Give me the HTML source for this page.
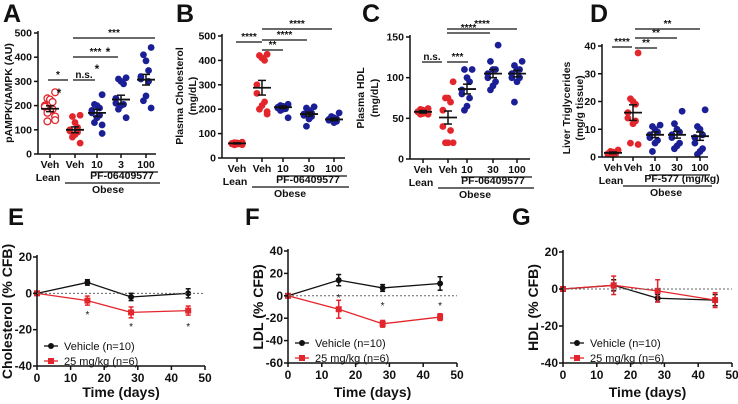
<!DOCTYPE html>
<html><head><meta charset="utf-8"><style>
body{margin:0;background:#fff}
svg{display:block;font-family:"Liberation Sans",Arial,sans-serif}
</style></head><body>
<svg id="fig" width="738" height="404" viewBox="0 0 738 404"></svg>
<script>
// ---------- data ----------
const groupLabels = ["Veh","Veh","10","3","100"];
const aLeanVeh = [255,230,225,215,200,195,185,180,170,155,140,135];
const aObeseVeh = [160,155,130,110,100,95,90,80,70,45];
const aDose10 = [245,205,200,190,180,170,160,150,130,120,85];
const aDose3 = [315,310,300,290,230,210,205,200,185,150];
const aDose100 = [440,410,385,345,320,310,300,240,220,190];
const aMeans = [187,100,170,225,307];
const aSem = [12,12,15,18,22];

const bLabels = ["Veh","Veh","10","30","100"];
const bLeanVeh = [65,63,62,60,60,58,58,57,56,55,55,54];
const bObeseVeh = [425,420,410,400,300,265,230,215,200,190,180];
const bDose10 = [220,215,212,210,208,205,202,200,195,165];
const bDose30 = [210,205,195,185,180,175,170,160,130];
const bDose100 = [185,170,165,160,158,155,150,145];
const bMeans = [60,288,208,180,158];
const bSem = [2,30,5,8,5];

const cLabels = ["Veh","Veh","10","30","100"];
const cLeanVeh = [62,61,60,59,58,58,57,56,55,55];
const cObeseVeh = [95,75,75,70,60,40,35,20,20,20];
const cDose10 = [110,110,100,95,85,80,75,65,60];
const cDose30 = [140,120,110,110,105,100,95,90,85];
const cDose100 = [120,115,110,110,105,100,100,95,70];
const cMeans = [58,51,86,105,105];
const cSem = [1.5,8,6,5,4];

const dLabels = ["Veh","Veh","10","30","100"];
const dLeanVeh = [2.5,2,1.8,1.5,1.2,1,1,0.8];
const dObeseVeh = [37.5,21,20,19,16,14,13,12,5,4.5];
const dDose10 = [11.5,11,10,9,8,7,6,5,2];
const dDose30 = [16.5,12,10,9,8,7,5,4,3];
const dDose100 = [17,11,10,8,7,5,3,2,1];
const dMeans = [1.5,16,8,8,7.5];
const dSem = [0.3,2.8,1,1.2,1.5];

const days = [0,15,28,45];
const eVehicle = [0,6,-2,0];
const eVehicleErr = [0,1.5,2,2.5];
const eDrug = [0,-4,-10.5,-9.5];
const eDrugErr = [0,2.5,3,2.5];
const fVehicle = [0,14,7,11];
const fVehicleErr = [0,5,3,6];
const fDrug = [0,-12,-25,-19];
const fDrugErr = [0,8,3,3];
const gVehicle = [0,2,-5,-6];
const gVehicleErr = [0,3,2,3];
const gDrug = [0,2,-1,-6];
const gDrugErr = [0,5,6,4];

// ---------- helpers ----------
const NS="http://www.w3.org/2000/svg";
const svg=document.getElementById('fig');
function el(tag,attrs,parent,text){const e=document.createElementNS(NS,tag);for(const k in attrs)e.setAttribute(k,attrs[k]);if(text!==undefined)e.textContent=text;(parent||svg).appendChild(e);return e;}
const RED="#e3262c", BLUE="#1b1f96";
function txt(x,y,s,size,anchor,name,extra){const t=el('text',Object.assign({x:x,y:y,'font-size':size,'font-weight':'bold','text-anchor':anchor||'middle',fill:'#111'},extra||{}),svg,s);

return t;}
function line(x1,y1,x2,y2,name,w,color,dash){const l=el('line',{x1:x1,y1:y1,x2:x2,y2:y2,stroke:color||'#111','stroke-width':w||1.3});if(dash)l.setAttribute('stroke-dasharray',dash);

return l;}

function dotPanel(cfg){
  const g=el('g',{});
  
  
  const ys=v=>cfg.y0+(v-cfg.ymin)/(cfg.ymax-cfg.ymin)*(cfg.y1-cfg.y0);
  line(cfg.ax,cfg.y1-2,cfg.ax,cfg.y0,'y-axis',1.5);
  line(cfg.ax,cfg.y0,cfg.axEnd,cfg.y0,'x-axis',1.5);
  cfg.ticks.forEach(t=>{const y=ys(t);line(cfg.ax-4,y,cfg.ax,y,'y-tick',1.5);txt(cfg.ax-6,y+3.5,String(t),10.5,'end','y-tick-label');});
  cfg.cats.forEach(c=>line(c,cfg.y0,c,cfg.y0+4,'x-tick',1.5));
  cfg.groups.forEach((vals,gi)=>{
    const cx=cfg.cats[gi];
    vals.forEach((v,i)=>{
      const off=((i%5)-2)*3.2*(i%2?1:-1)*0.8;
      const hollow=gi===0&&cfg.hollowFirst;
      const c=el('circle',{cx:cx+off,cy:ys(v),r:3.4,fill:hollow?'#fff':(gi<2?RED:BLUE),stroke:gi<2?RED:BLUE,'stroke-width':hollow?1.3:0},g);
      
      
    });
    const m=cfg.means[gi],s=cfg.sem[gi];
    line(cx-9,ys(m),cx+9,ys(m),'mean-bar',1.8);
    line(cx,ys(m-s),cx,ys(m+s),'sem-bar',1.5);
    line(cx-4,ys(m-s),cx+4,ys(m-s),'sem-cap',1.5);
    line(cx-4,ys(m+s),cx+4,ys(m+s),'sem-cap',1.5);
  });
  cfg.labels.forEach((l,i)=>txt(cfg.cats[i],cfg.y0+14,l,10.5,'middle','x-tick-label'));
  line(cfg.cats[2]-6,cfg.y0+18,cfg.axEnd+2,cfg.y0+18,'dose-underline',1.2);
  txt(cfg.cats[0]-2,cfg.y0+27,'Lean',10.5,'middle','lean-label');
  txt(cfg.drugX,cfg.y0+25,cfg.drug,10.5,'middle','drug-label');
  line(cfg.cats[1]-10,cfg.y0+29,cfg.axEnd+4,cfg.y0+29,'obese-underline',1.2);
  txt(cfg.obeseX,cfg.y0+39,'Obese',10.5,'middle','obese-label');
  cfg.sig.forEach(s=>{line(s[0],s[2],s[1],s[2],'significance-line',1.2);txt((s[0]+s[1])/2,s[2]-2,s[3],10,'middle','significance-label');});
  cfg.ylab.forEach((l,i)=>txt(0,0,l,10.5,'middle','y-axis-title',{transform:`translate(${l[1]},${cfg.ylabY}) rotate(-90)`}).textContent=l[0]);
  txt(cfg.letterX,22,cfg.letter,25,'start','panel-label-'+cfg.letter.toLowerCase());
  return ys;
}

dotPanel({name:'panel-a',ax:38,axEnd:156,y0:154,y1:33,ymin:0,ymax:500,ticks:[0,100,200,300,400,500],
  cats:[50,75,97,121,146],groups:[aLeanVeh,aObeseVeh,aDose10,aDose3,aDose100],means:aMeans,sem:aSem,hollowFirst:true,
  labels:groupLabels,drug:'PF-06409577',drugX:122,obeseX:108,
  sig:[[48,68,80,'*'],[73,95,80,'n.s.'],[73,118,57,'***'],[73,155,38,'***']],
  ylab:[['pAMPK/tAMPK (AU)',12]],ylabY:93,letter:'A',letterX:3});
txt(108,56,'*',12,'middle','significance-label');
txt(97,73,'*',12,'middle','significance-label');
txt(59,97,'*',12,'middle','significance-label');

dotPanel({name:'panel-b',ax:222,axEnd:345,y0:158,y1:36,ymin:0,ymax:500,ticks:[0,100,200,300,400,500],
  cats:[237,262,283,309,334],groups:[bLeanVeh,bObeseVeh,bDose10,bDose30,bDose100],means:bMeans,sem:bSem,
  labels:bLabels,drug:'PF-06409577',drugX:308,obeseX:290,
  sig:[[236,262,42,'****'],[262,283,50,'**'],[262,307,40,'****'],[262,332,29,'****']],
  ylab:[['Plasma Cholesterol',183],['(mg/dL)',196]],ylabY:96,letter:'B',letterX:176});

dotPanel({name:'panel-c',ax:410,axEnd:530,y0:159,y1:37,ymin:0,ymax:150,ticks:[0,50,100,150],
  cats:[423,448,467,493,517],groups:[cLeanVeh,cObeseVeh,cDose10,cDose30,cDose100],means:cMeans,sem:cSem,
  labels:cLabels,drug:'PF-06409577',drugX:493,obeseX:475,
  sig:[[422,442,62,'n.s.'],[447,468,62,'***'],[447,490,33,'****'],[447,517,29,'****']],
  ylab:[['Plasma HDL',364],['(mg/dL)',378]],ylabY:98,letter:'C',letterX:362});

dotPanel({name:'panel-d',ax:602,axEnd:708,y0:157,y1:46,ymin:0,ymax:40,ticks:[0,10,20,30,40],
  cats:[613,633,655,677,700],groups:[dLeanVeh,dObeseVeh,dDose10,dDose30,dDose100],means:dMeans,sem:dSem,
  labels:dLabels,drug:'PF-577 (mg/kg)',drugX:682,obeseX:666,
  sig:[[612,632,47,'****'],[635,657,48,'**'],[635,677,38,'**'],[635,700,29,'**']],
  ylab:[['Liver Triglycerides',570],['(mg/g tissue)',583]],ylabY:108,letter:'D',letterX:590});

function linePanel(cfg){
  const g=el('g',{});
  
  
  const xs=v=>cfg.x0+v/50*(cfg.x1-cfg.x0);
  const ys=v=>cfg.yTop+(cfg.ymax-v)/(cfg.ymax-cfg.ymin)*(cfg.yBot-cfg.yTop);
  line(cfg.x0,cfg.yTop-2,cfg.x0,cfg.yBot,'y-axis',1.5);
  line(cfg.x0,cfg.yBot,cfg.x1,cfg.yBot,'x-axis',1.5);
  cfg.ticks.forEach(t=>{line(cfg.x0-4,ys(t),cfg.x0,ys(t),'y-tick',1.5);txt(cfg.x0-5,ys(t)+4,String(t),12,'end','y-tick-label');});
  [0,10,20,30,40,50].forEach(t=>{line(xs(t),cfg.yBot,xs(t),cfg.yBot+4,'x-tick',1.5);txt(xs(t),cfg.yBot+16,String(t),12,'middle','x-tick-label');});
  line(cfg.x0,ys(0),cfg.x1,ys(0),'zero-reference-line',1,'#666','2,2');
  [[cfg.veh,cfg.vehErr,'#111','vehicle'],[cfg.drug,cfg.drugErr,RED,'drug']].forEach(([v,e,c,n])=>{
    const pts=days.map((d,i)=>xs(d)+','+ys(v[i])).join(' ');
    const pl=el('polyline',{points:pts,fill:'none',stroke:c,'stroke-width':1.3},g);
    
    
    days.forEach((d,i)=>{
      if(e[i]>0){line(xs(d),ys(v[i]-e[i]),xs(d),ys(v[i]+e[i]),n+'-error-bar',1.5,c);
        line(xs(d)-2.5,ys(v[i]-e[i]),xs(d)+2.5,ys(v[i]-e[i]),n+'-error-cap',1.5,c);
        line(xs(d)-2.5,ys(v[i]+e[i]),xs(d)+2.5,ys(v[i]+e[i]),n+'-error-cap',1.5,c);}
      const m=n==='vehicle'?el('circle',{cx:xs(d),cy:ys(v[i]),r:3,fill:c},g):el('rect',{x:xs(d)-3,y:ys(v[i])-3,width:6,height:6,fill:c},g);
      
      
    });
  });
  (cfg.stars||[]).forEach(s=>txt(xs(s[0]),s[1],'*',10,'middle','significance-star',{'font-weight':'normal'}));
  const lx=cfg.x0+7, ly=cfg.yBot-20;
  line(lx,ly,lx+14,ly,'legend-vehicle-line',1.3);
  const lc=el('circle',{cx:lx+7,cy:ly,r:3,fill:'#111'});
  txt(lx+20,ly+4,'Vehicle  (n=10)',11,'start','legend-vehicle-label',{'font-weight':'normal'});
  line(lx,ly+15,lx+14,ly+15,'legend-drug-line',1.3,RED);
  const lr=el('rect',{x:lx+4,y:ly+12,width:6,height:6,fill:RED});
  txt(lx+20,ly+19,'25 mg/kg (n=6)',11,'start','legend-drug-label',{'font-weight':'normal'});
  txt((cfg.x0+cfg.x1)/2,397,'Time  (days)',14,'middle','x-axis-title');
  txt(0,0,cfg.ylab,14,'middle','y-axis-title',{transform:`translate(${cfg.x0-25},${(cfg.yTop+cfg.yBot)/2}) rotate(-90)`});
  txt(cfg.letterX,225,cfg.letter,24,'start','panel-label-'+cfg.letter.toLowerCase());
}
linePanel({name:'panel-e',x0:37,x1:205,yTop:257,yBot:366,ymin:-40,ymax:20,ticks:[20,0,-20,-40],
  veh:eVehicle,vehErr:eVehicleErr,drug:eDrug,drugErr:eDrugErr,stars:[[15,318],[28,330],[45,330]],
  ylab:'Cholesterol  (% CFB)',letter:'E',letterX:8});
linePanel({name:'panel-f',x0:288,x1:457,yTop:251,yBot:363,ymin:-60,ymax:40,ticks:[40,20,0,-20,-40,-60],
  veh:fVehicle,vehErr:fVehicleErr,drug:fDrug,drugErr:fDrugErr,stars:[[15,301],[28,309],[45,309]],
  ylab:'LDL  (% CFB)',letter:'F',letterX:245});
linePanel({name:'panel-g',x0:563,x1:732,yTop:252,yBot:363,ymin:-40,ymax:20,ticks:[20,0,-20,-40],
  veh:gVehicle,vehErr:gVehicleErr,drug:gDrug,drugErr:gDrugErr,
  ylab:'HDL  (% CFB)',letter:'G',letterX:512});
</script>
</body></html>
